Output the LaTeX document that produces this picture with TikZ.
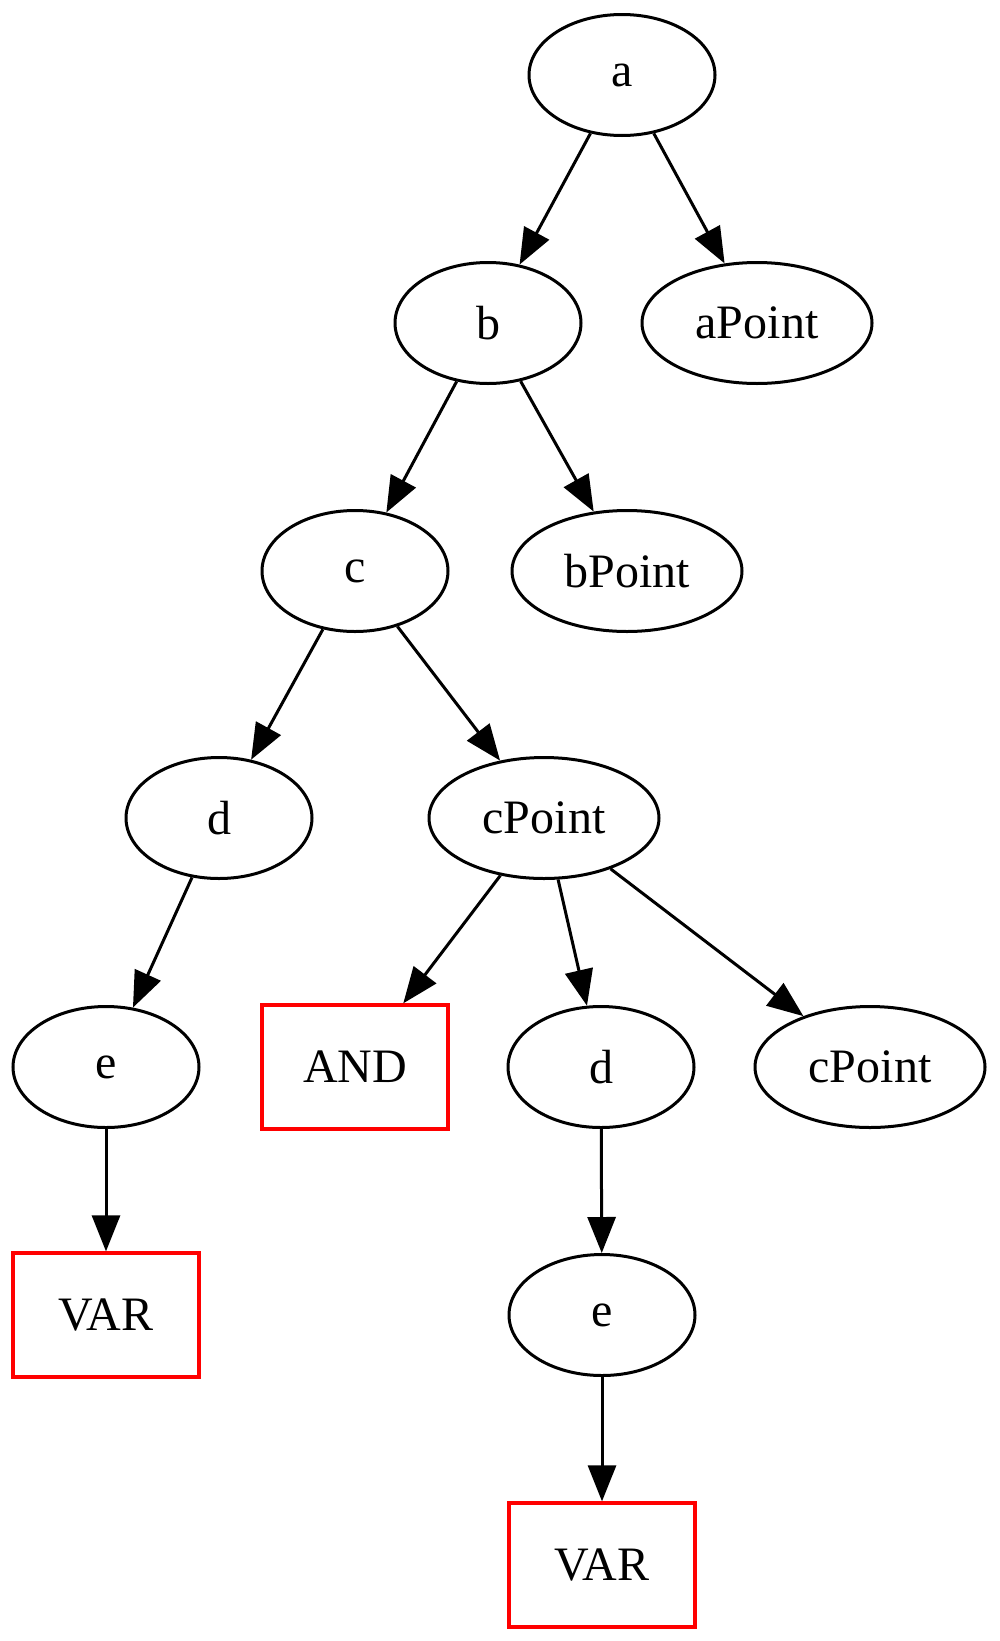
\documentclass[tikz,border=0pt]{standalone}
\usepackage{fontspec}
\setmainfont{Liberation Serif}
\usetikzlibrary{shapes.geometric,arrows.meta}
\begin{document}
\begin{tikzpicture}[x=1pt,y=-1pt,
  every node/.style={font=\fontsize{48}{56}\selectfont},
  oval/.style={ellipse,draw=black,line width=3pt,inner sep=0pt,minimum width=186pt,minimum height=121pt},
  wide/.style={oval,minimum width=230pt},
  redbox/.style={rectangle,draw=red,line width=3.3pt,inner sep=0pt,minimum width=186pt,minimum height=124pt},
  edge/.style={line width=3pt,-{Triangle[length=36pt,width=28pt]}}]
\useasboundingbox (0,0) rectangle (1000,1641);
\node[oval] (a) at (622,75) {a};
\node[oval] (b) at (488,323) {b};
\node[wide] (ap) at (757,323) {aPoint};
\node[oval] (c) at (355,571) {c};
\node[wide] (bp) at (627,571) {bPoint};
\node[oval] (d) at (219,818) {d};
\node[wide] (cp) at (544,818) {cPoint};
\node[oval] (e) at (106,1067) {e};
\node[redbox] (and) at (355,1067) {AND};
\node[oval] (d2) at (601,1067) {d};
\node[wide] (cp2) at (870,1067) {cPoint};
\node[redbox] (var) at (106,1315) {VAR};
\node[oval] (e2) at (602,1315) {e};
\node[redbox] (var2) at (602,1565) {VAR};
\draw[edge] (a) -- (b);
\draw[edge] (a) -- (ap);
\draw[edge] (b) -- (c);
\draw[edge] (b) -- (bp);
\draw[edge] (c) -- (d);
\draw[edge] (c) -- (cp);
\draw[edge] (d) -- (e);
\draw[edge] (cp) -- (and);
\draw[edge] (cp) -- (d2);
\draw[edge] (cp) -- (cp2);
\draw[edge] (e) -- (var);
\draw[edge] (d2) -- (e2);
\draw[edge] (e2) -- (var2);
\end{tikzpicture}
\end{document}
